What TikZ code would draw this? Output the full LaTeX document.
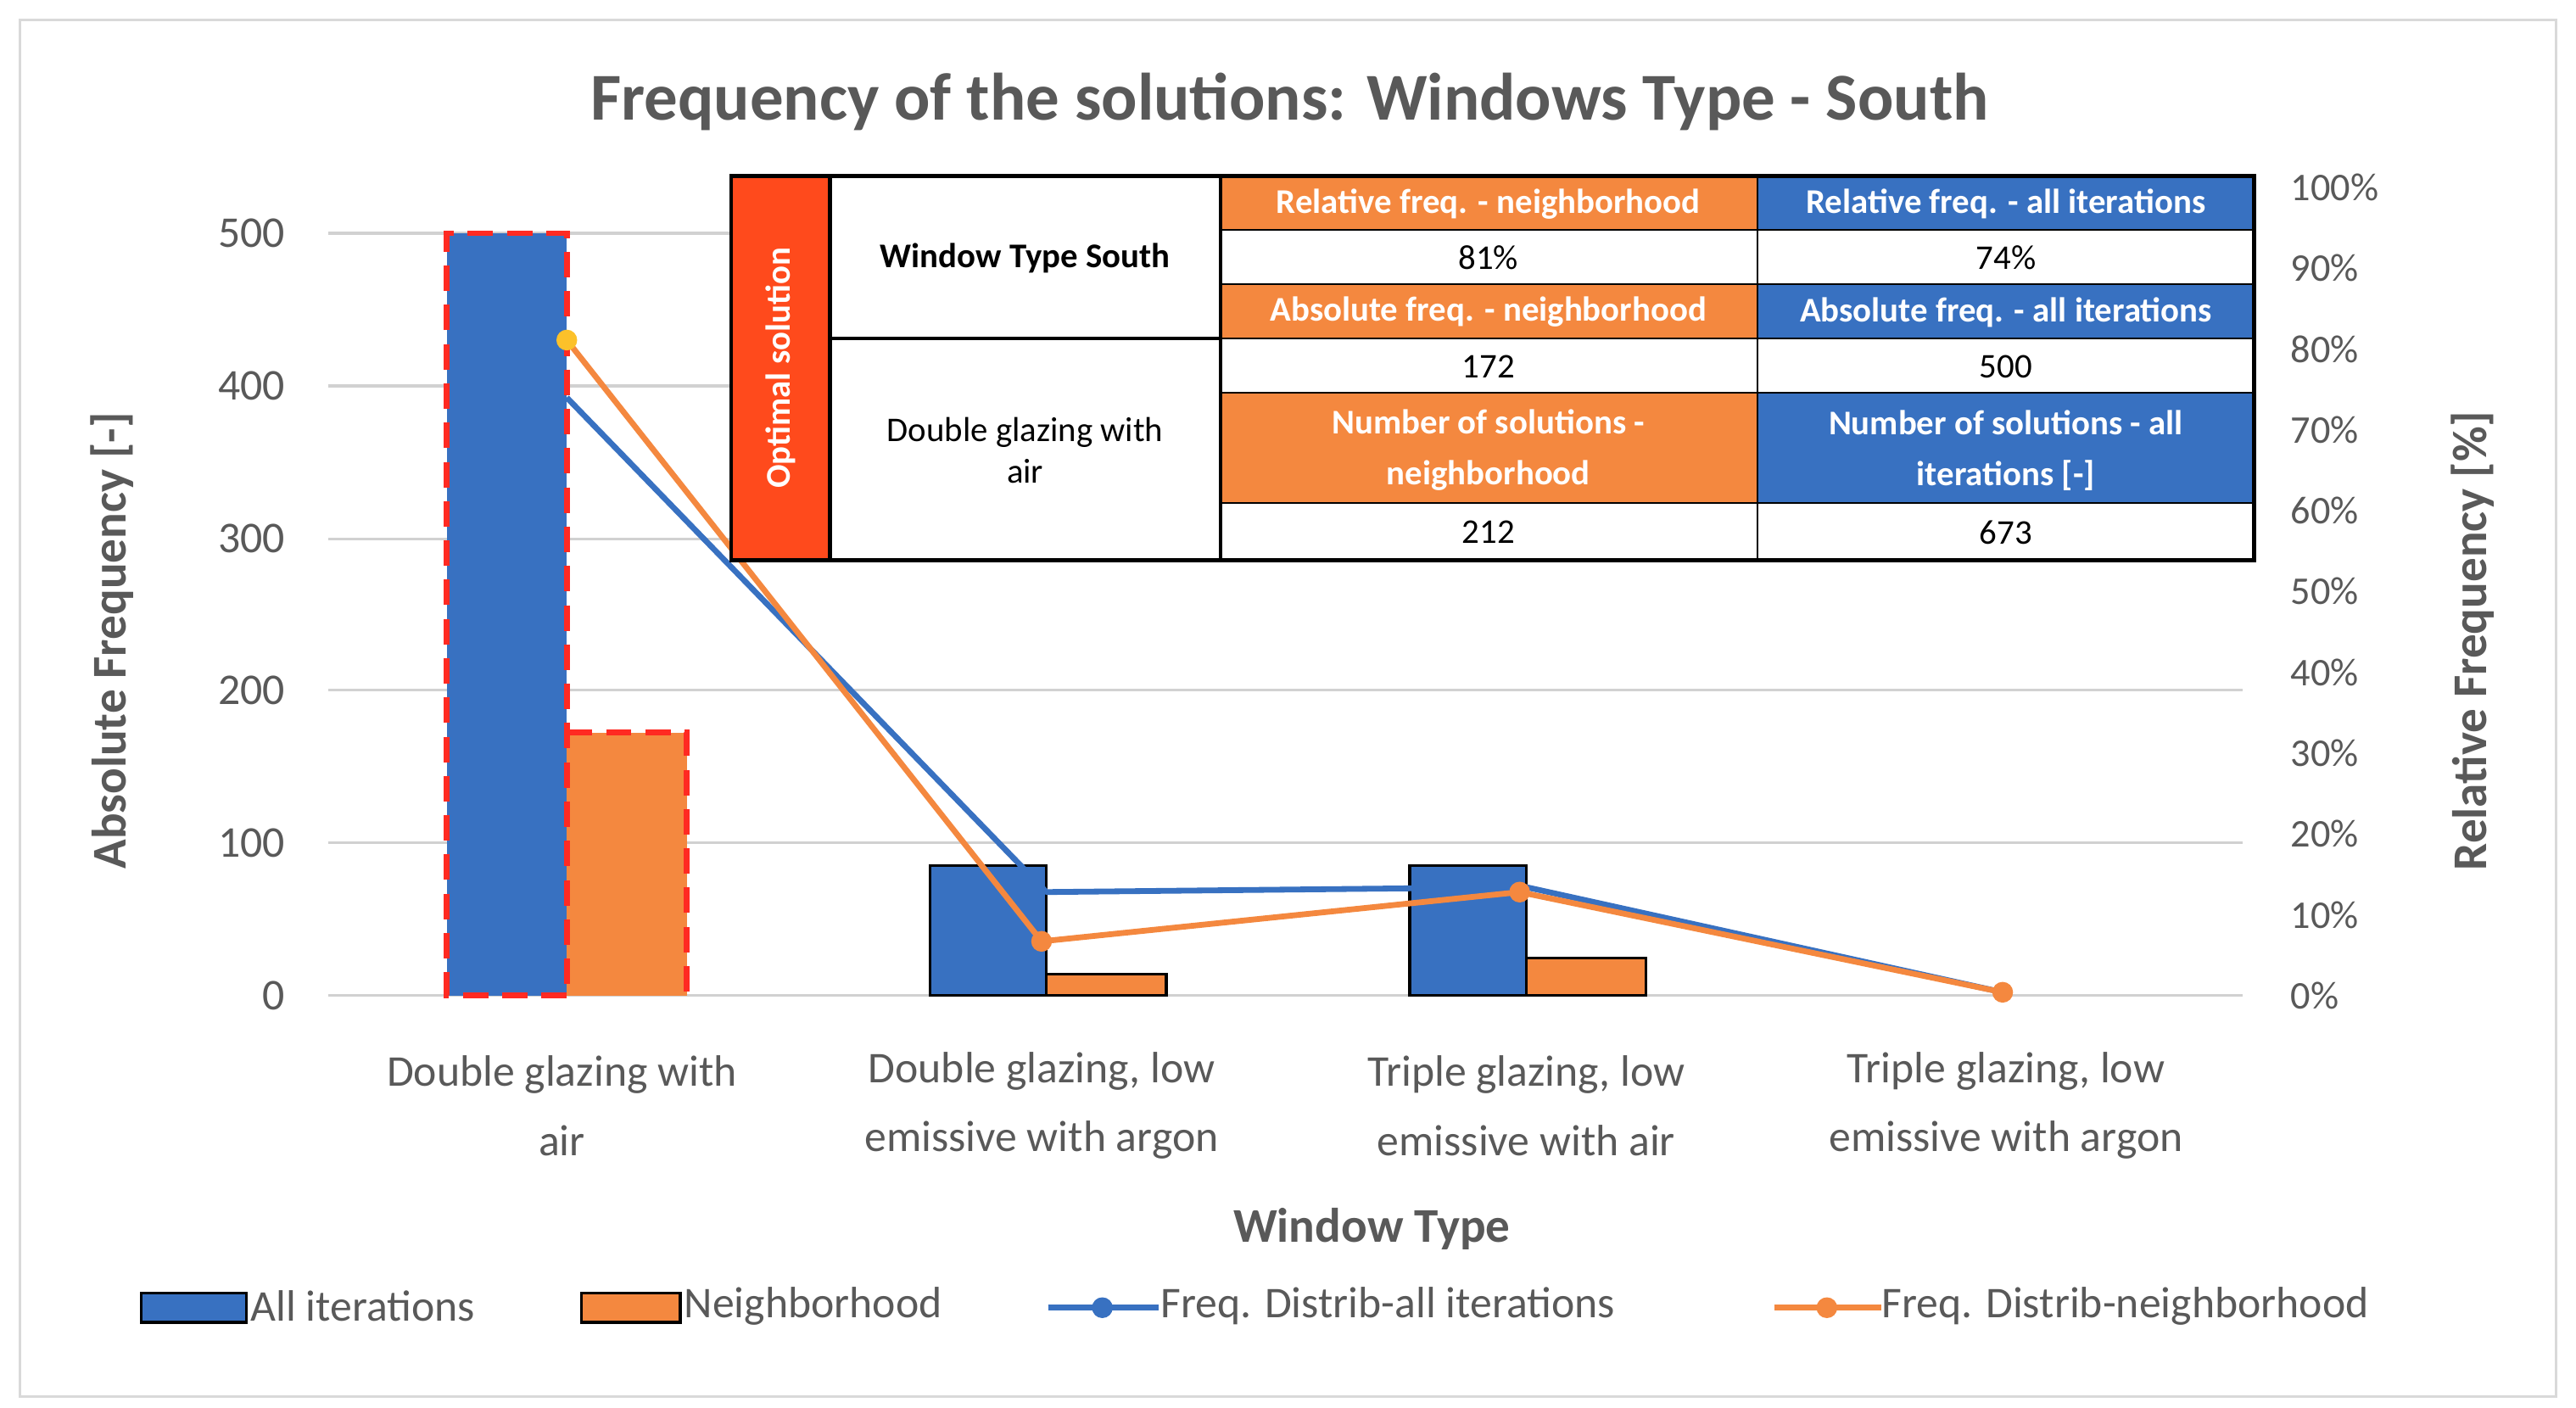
\documentclass[tikz,border=0pt]{standalone}
\usepackage{fontspec}
\setmainfont{Carlito}
\begin{document}
\begin{tikzpicture}[x=0.05cm,y=-0.05cm,
  fs/.style={font=\fontsize{38}{42}\selectfont},
  tb/.style={font=\fontsize{30}{36}\selectfont},
  grid/.style={draw=black!18,line width=2.5pt},
  bb/.style={fill=cblue},
  ob/.style={fill=corange},
  blk/.style={draw=black,line width=2.5pt},
  reddash/.style={draw=cred,line width=5pt,dash pattern=on 22pt off 12pt},
  ln/.style={line width=5pt},
  mk/.style={circle,inner sep=0pt,minimum size=18pt},
  cell/.style={draw=black,line width=1.5pt},
  thick/.style={draw=black,line width=3.5pt}]
\definecolor{cblue}{HTML}{3871C1}
\definecolor{corange}{HTML}{F4883F}
\definecolor{cred}{HTML}{FF2A22}
\definecolor{copt}{HTML}{FF4A1C}
\definecolor{cgray}{HTML}{595959}
\definecolor{cyel}{HTML}{FCC12A}
\useasboundingbox (0,0) rectangle (1568,857);
\draw[black!15,line width=2pt] (12,12) rectangle (1556,850);
\node[font=\fontsize{58}{62}\selectfont\bfseries,text=cgray] (title) at (785,62) {Frequency of the solutions: Windows Type - South};
% grid
\foreach \v/\y in {0/606,100/513,200/420,300/328,400/235,500/142}{
  \draw[grid] (200,\y) -- (1365,\y);
  \node[fs,text=cgray,anchor=east] (l\v) at (176,\y) {\v};}
\foreach \p in {0,...,10}{
  \pgfmathtruncatemacro{\q}{\p*10}
  \node[fs,text=cgray,anchor=west,font=\fontsize{34}{38}\selectfont] (r\p) at (1392,{606-49.2*\p}) {\q\%};}
% bars
\fill[cblue] (272,606) rectangle (345,142);
\fill[corange] (345,606) rectangle (418,446);
\draw[reddash] (345,606) -- (272,606) -- (272,142) -- (345,142) -- (345,606);
\draw[reddash] (345,446) -- (418,446) -- (418,606);
\draw[blk,fill=cblue] (566,606) rectangle (637,527);
\draw[blk,fill=corange] (637,606) rectangle (710,593);
\draw[blk,fill=cblue] (858,606) rectangle (929,527);
\draw[blk,fill=corange] (929,606) rectangle (1002,583);
% lines
\coordinate (b1) at (345,242); \coordinate (b2) at (637,543);
\coordinate (b3) at (929,540); \coordinate (b4) at (1219,604);
\coordinate (o1) at (345,207); \coordinate (o2) at (634,573);
\coordinate (o3) at (925,543); \coordinate (o4) at (1219,604);
\draw[ln,cblue,line join=round] (b1) -- (b2) -- (b3) -- (b4);
\draw[ln,corange,line join=round] (o1) -- (o2) -- (o3) -- (o4);
\node[mk,fill=cyel] (m1) at (o1) {};
\node[mk,fill=corange] (m2) at (o2) {};
\node[mk,fill=corange] (m3) at (o3) {};
\node[mk,fill=corange] (m4) at (o4) {};
% table
\fill[copt] (445,107) rectangle (505,341);
\fill[white] (505,107) rectangle (743,341);
\fill[corange] (743,107) rectangle (1070,140);
\fill[cblue] (1070,107) rectangle (1372,140);
\fill[corange] (743,173) rectangle (1070,206);
\fill[cblue] (1070,173) rectangle (1372,206);
\fill[corange] (743,239) rectangle (1070,306);
\fill[cblue] (1070,239) rectangle (1372,306);
\fill[white] (743,140) rectangle (1372,173);
\fill[white] (743,206) rectangle (1372,239);
\fill[white] (743,306) rectangle (1372,341);
\foreach \y in {140,173,206,239,306}{\draw[cell] (743,\y) -- (1372,\y);}
\draw[cell] (1070,107) -- (1070,341);
\draw[thick] (445,107) rectangle (1372,341);
\draw[thick] (505,107) -- (505,341);
\draw[thick] (743,107) -- (743,341);
\draw[thick] (505,206) -- (743,206);
\node[rotate=90,text=white,font=\fontsize{30}{34}\selectfont\bfseries] (opt) at (475,224) {Optimal solution};
\node[tb,font=\fontsize{30}{36}\selectfont\bfseries] (wts) at (624,157) {Window Type South};
\node[tb,align=center] (dga) at (624,274) {Double glazing with\\air};
\node[tb,text=white,font=\fontsize{30}{36}\selectfont\bfseries] (h1) at (906,124) {Relative freq. - neighborhood};
\node[tb,text=white,font=\fontsize{30}{36}\selectfont\bfseries] (h2) at (1221,124) {Relative freq. - all iterations};
\node[tb] (v1) at (906,157) {81\%};
\node[tb] (v2) at (1221,157) {74\%};
\node[tb,text=white,font=\fontsize{30}{36}\selectfont\bfseries] (h3) at (906,190) {Absolute freq. - neighborhood};
\node[tb,text=white,font=\fontsize{30}{36}\selectfont\bfseries] (h4) at (1221,190) {Absolute freq. - all iterations};
\node[tb] (v3) at (906,223) {172};
\node[tb] (v4) at (1221,223) {500};
\node[tb,text=white,align=center,font=\fontsize{30}{44}\selectfont\bfseries] (h5) at (906,274) {Number of solutions -\\neighborhood};
\node[tb,text=white,align=center,font=\fontsize{30}{44}\selectfont\bfseries] (h6) at (1221,274) {Number of solutions - all\\iterations [-]};
\node[tb] (v5) at (906,324) {212};
\node[tb] (v6) at (1221,324) {673};
% axis titles
\node[rotate=90,text=cgray,font=\fontsize{42}{46}\selectfont\bfseries] (yl) at (68,390) {Absolute Frequency [-]};
\node[rotate=90,text=cgray,font=\fontsize{42}{46}\selectfont\bfseries] (yr) at (1505,390) {Relative Frequency [\%]};
\foreach \x/\a/\b [count=\i] in {342/Double glazing with/air,634/{Double glazing, low}/emissive with argon,929/{Triple glazing, low}/emissive with air,1221/{Triple glazing, low}/emissive with argon}{
  \node[fs,text=cgray,align=center,font=\fontsize{38}{60}\selectfont] (c\i) at (\x,673) {\a\\\b};}
\node[text=cgray,font=\fontsize{42}{46}\selectfont\bfseries] (xl) at (835,748) {Window Type};
% legend
\draw[black,line width=2.5pt,fill=cblue] (86,787) rectangle (150,805);
\node[fs,text=cgray,anchor=west] (lg1) at (150,795) {All iterations};
\draw[black,line width=2.5pt,fill=corange] (354,787) rectangle (414,805);
\node[fs,text=cgray,anchor=west] (lg2) at (414,795) {Neighborhood};
\draw[ln,cblue] (638,796) -- (705,796);
\node[mk,fill=cblue] (lm1) at (671,796) {};
\node[fs,text=cgray,anchor=west] (lg3) at (704,795) {Freq. Distrib-all iterations};
\draw[ln,corange] (1080,796) -- (1145,796);
\node[mk,fill=corange] (lm2) at (1112,796) {};
\node[fs,text=cgray,anchor=west] (lg4) at (1143,795) {Freq. Distrib-neighborhood};
\end{tikzpicture}
\end{document}
